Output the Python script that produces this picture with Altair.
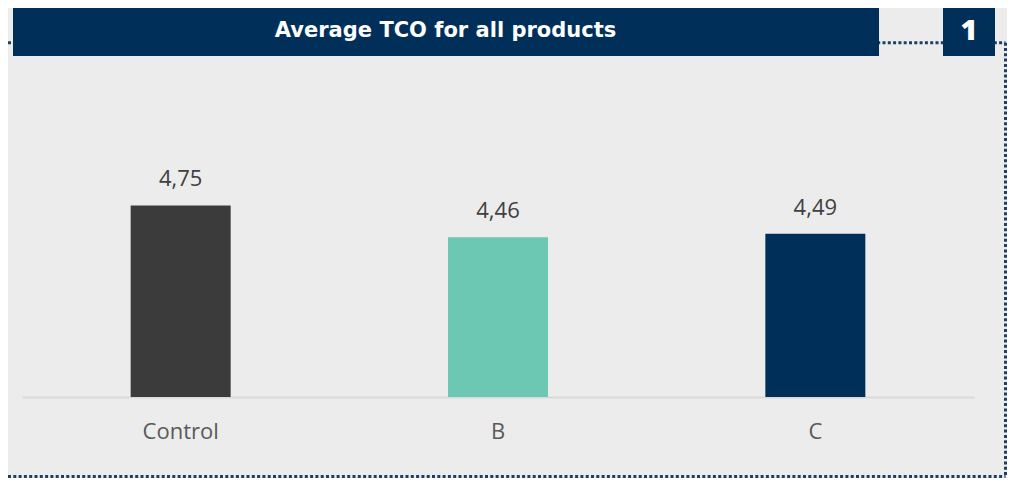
import altair as alt
import pandas as pd

categories = ["Control", "B", "C"]
values = [4.75, 4.46, 4.49]
value_labels = ["4,75", "4,46", "4,49"]
bar_colors = ["#3b3b3b", "#6cc8b2", "#00305a"]

title_text = "Average TCO for all products"
badge_text = "1"

df = pd.DataFrame({"category": categories, "value": values, "label": value_labels})
one = pd.DataFrame({"k": [0]})

NAVY = "#00305a"
BG = "#ececec"
DOT = "#1c3f66"
FONT = "Open Sans"
TITLE_FONT = "DejaVu Sans"

x_enc = alt.X(
    "category:N",
    sort=categories,
    scale=alt.Scale(range=[14, 966], paddingInner=0, paddingOuter=0),
    axis=alt.Axis(
        title=None,
        labelAngle=0,
        domainColor="#d9d9d9",
        domainWidth=2,
        ticks=False,
        labelFontSize=22,
        labelFont=FONT,
        labelColor="#595959",
        labelPadding=24,
    ),
)
y_enc = alt.Y(
    "value:Q",
    scale=alt.Scale(domain=[3, 5], range=[389, 170], zero=False, nice=False),
    axis=None,
)

bars = alt.Chart(df).mark_bar(width=100).encode(
    x=x_enc,
    y=y_enc,
    y2=alt.datum(3),
    color=alt.Color(
        "category:N",
        scale=alt.Scale(domain=categories, range=bar_colors),
        legend=None,
    ),
)

labels = alt.Chart(df).mark_text(
    dy=-19, baseline="alphabetic", fontSize=22, font=FONT, color="#404040"
).encode(x=x_enc, y=y_enc, text="label:N")

dash = dict(strokeDash=[3, 2.3], strokeWidth=3, color=DOT)
top_line = alt.Chart(one).mark_rule(**dash).encode(
    x=alt.value(0), x2=alt.value(997.5), y=alt.value(34.7)
)
right_line = alt.Chart(one).mark_rule(**dash).encode(
    x=alt.value(997.5), y=alt.value(34.7), y2=alt.value(468.5)
)
bottom_line = alt.Chart(one).mark_rule(**dash).encode(
    x=alt.value(0), x2=alt.value(997.5), y=alt.value(468.5)
)

title_box = alt.Chart(one).mark_rect(color=NAVY).encode(
    x=alt.value(5), x2=alt.value(871), y=alt.value(0), y2=alt.value(48)
)
title_label = alt.Chart(one).mark_text(
    text=title_text, font=TITLE_FONT, fontSize=21, fontWeight="bold", color="white",
    align="center", baseline="middle",
).encode(x=alt.value(437.5), y=alt.value(22.5))

badge_box = alt.Chart(one).mark_rect(color=NAVY).encode(
    x=alt.value(935), x2=alt.value(987), y=alt.value(0), y2=alt.value(48)
)
badge_label = alt.Chart(one).mark_text(
    text=badge_text, font=FONT, fontSize=29, fontWeight=800, color="white",
    align="center", baseline="middle",
).encode(x=alt.value(961), y=alt.value(22.5))

chart = alt.layer(
    top_line, right_line, bottom_line,
    title_box, title_label, badge_box, badge_label,
    bars, labels,
).properties(
    width=999,
    height=389,
    padding={"left": 0, "top": 0, "right": 0, "bottom": 81},
    autosize=alt.AutoSizeParams(type="none"),
    background=BG,
).configure_view(stroke=None)

chart.save("out.html", embed_options={"renderer": "svg", "actions": False})
